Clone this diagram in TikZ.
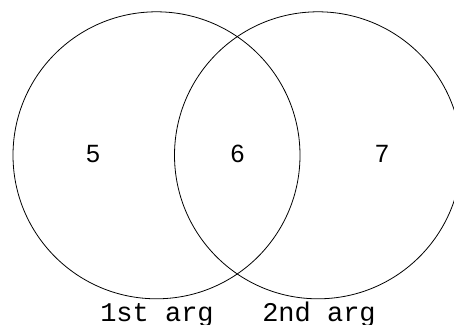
\documentclass[tikz,border=0pt]{standalone}
\usepackage{fontspec}
\setmainfont{Liberation Sans}
\newfontfamily\vmono{Liberation Mono}
\begin{document}
\begin{tikzpicture}[x=1pt,y=-1pt,
  setcircle/.style={draw=black,line width=0.8pt,circle,minimum size=287pt,inner sep=0pt},
  numlabel/.style={anchor=base,inner sep=0pt,font=\fontsize{25}{30}\selectfont},
  arglabel/.style={anchor=base,inner sep=0pt,font=\vmono\fontsize{27}{32}\selectfont}]
\useasboundingbox (0,0) rectangle (454,324);
\clip (0,0) rectangle (454,324);
\node[setcircle] (first) at (156.5,155.3) {};
\node[setcircle] (second) at (318,155.3) {};
\node[numlabel] (five) at (93,162) {5};
\node[numlabel] (six) at (237.5,162) {6};
\node[numlabel] (seven) at (382,162) {7};
\node[arglabel] (arg1) at (157,321) {1st arg};
\node[arglabel] (arg2) at (319,321) {2nd arg};
\end{tikzpicture}
\end{document}
